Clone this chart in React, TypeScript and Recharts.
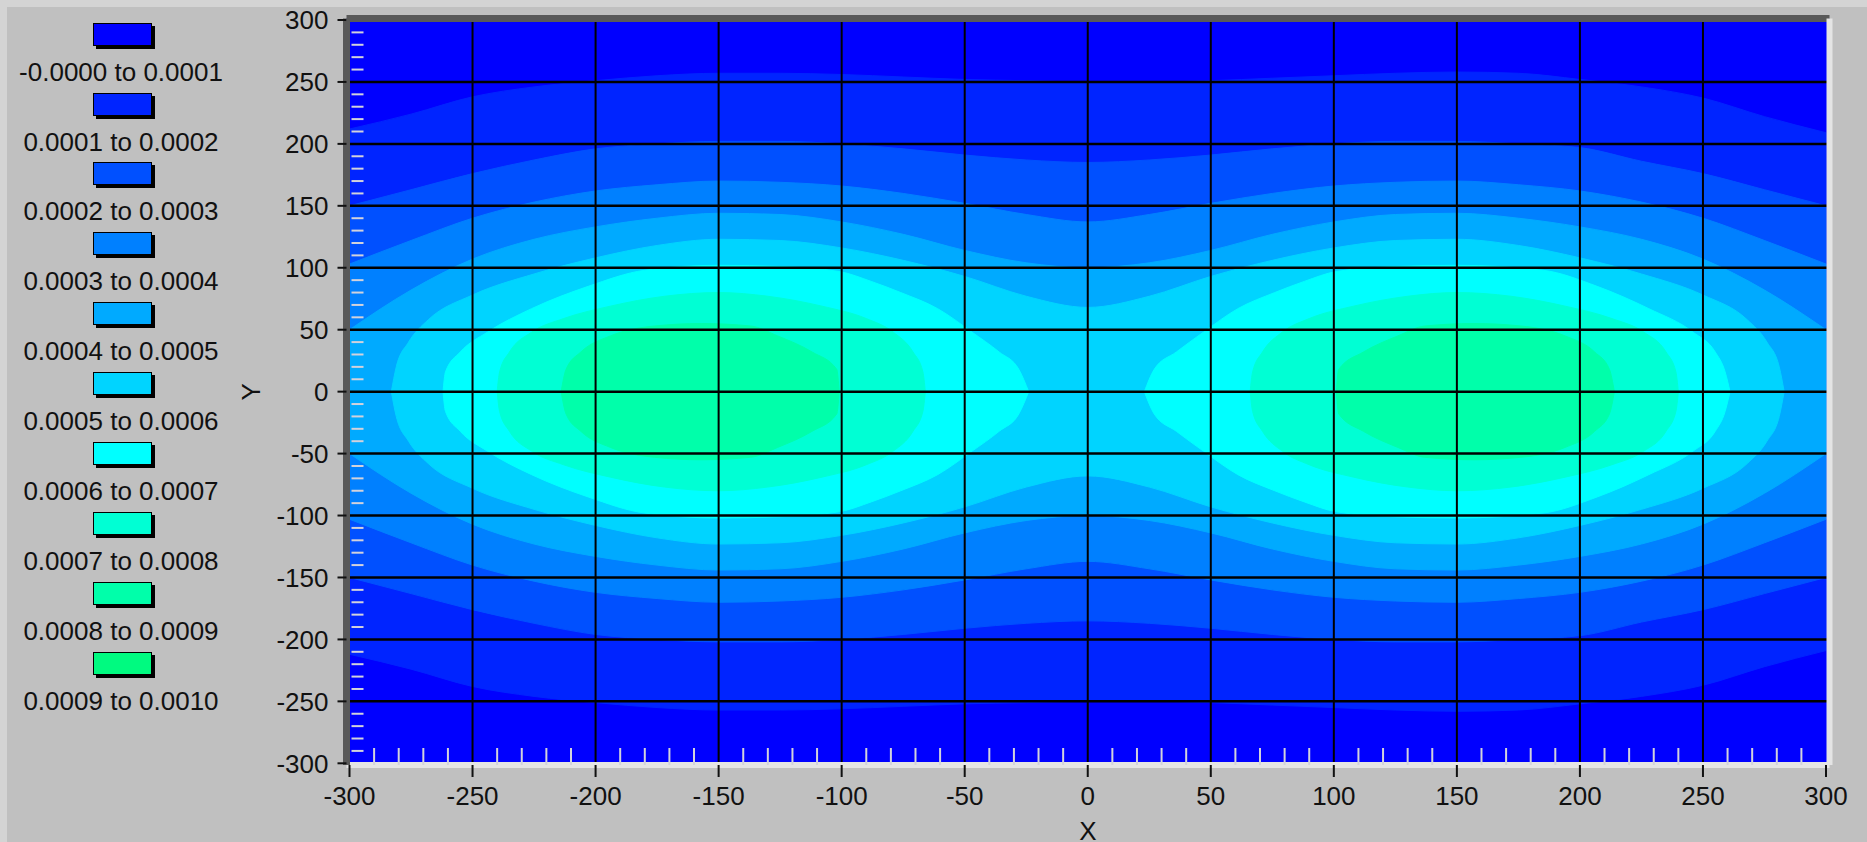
import React from "react"
import { ScatterChart, Scatter, XAxis, YAxis, CartesianGrid, ReferenceLine, Legend, Curve } from "recharts"

const FONT = "'Liberation Sans', Arial, sans-serif"

const bandLabels = [
  "-0.0000 to 0.0001",
  "0.0001 to 0.0002",
  "0.0002 to 0.0003",
  "0.0003 to 0.0004",
  "0.0004 to 0.0005",
  "0.0005 to 0.0006",
  "0.0006 to 0.0007",
  "0.0007 to 0.0008",
  "0.0008 to 0.0009",
  "0.0009 to 0.0010",
]

const bandColors = [
  "#0000ff",
  "#0024ff",
  "#0050ff",
  "#0080ff",
  "#00aaff",
  "#00d4ff",
  "#00ffff",
  "#00ffd4",
  "#00ffaa",
  "#00fa80",
]

const majorTicks = [-300, -250, -200, -150, -100, -50, 0, 50, 100, 150, 200, 250, 300]
const gridLines = [-250, -200, -150, -100, -50, 0, 50, 100, 150, 200, 250]
const minorTicks = [
  -290, -280, -270, -260, -240, -230, -220, -210, -190, -180, -170, -160,
  -140, -130, -120, -110, -90, -80, -70, -60, -40, -30, -20, -10,
  10, 20, 30, 40, 60, 70, 80, 90, 110, 120, 130, 140,
  160, 170, 180, 190, 210, 220, 230, 240, 260, 270, 280, 290,
]

type Pt = [number, number]

// upper edge (y >= 0) of each contour region; the field is mirrored about y = 0
const level1Edge: Pt[] = [
  [-300, 212], [-275, 224], [-250, 238], [-225, 246], [-200, 251], [-175, 255], [-150, 257],
  [-125, 257], [-100, 256], [-75, 254], [-50, 252], [-25, 251], [0, 250], [25, 250],
  [50, 251], [75, 253], [100, 255], [125, 257], [150, 258], [175, 257], [200, 252],
  [225, 246], [250, 237], [275, 222], [300, 209],
]

const level2Edge: Pt[] = [
  [-300, 150], [-275, 163], [-250, 176], [-225, 187], [-200, 196], [-175, 200], [-150, 202],
  [-125, 202], [-100, 200], [-75, 196], [-50, 191], [-25, 187], [0, 185], [25, 187],
  [50, 191], [75, 196], [100, 200], [125, 202], [150, 202], [175, 200], [200, 197],
  [225, 186], [250, 176], [275, 163], [300, 150],
]

const level3Edge: Pt[] = [
  [-300, 103], [-275, 122], [-250, 140], [-225, 153], [-200, 162], [-175, 167], [-150, 170],
  [-125, 169], [-100, 166], [-75, 160], [-50, 152], [-25, 143], [0, 137], [25, 143],
  [50, 152], [75, 160], [100, 166], [125, 169], [150, 170], [175, 167], [200, 162],
  [225, 153], [250, 140], [275, 122], [300, 103],
]

const level4Edge: Pt[] = [
  [-300, 50], [-275, 82], [-250, 107], [-225, 123], [-200, 133], [-175, 140], [-150, 144],
  [-125, 143], [-100, 137], [-75, 127], [-50, 114], [-25, 104], [0, 100], [25, 104],
  [50, 114], [75, 127], [100, 137], [125, 143], [150, 144], [175, 140], [200, 133],
  [225, 123], [250, 107], [275, 82], [300, 50],
]

const level5Edge: Pt[] = [
  [-283, 0], [-281, 20], [-276, 40], [-268, 58], [-250, 78], [-225, 95], [-200, 108],
  [-175, 118], [-150, 123], [-125, 122], [-100, 116], [-75, 106], [-50, 93], [-25, 77],
  [0, 68], [25, 77], [50, 93], [75, 106], [100, 116], [125, 122], [150, 123], [175, 118],
  [200, 108], [225, 95], [250, 78], [268, 58], [276, 40], [281, 20], [283, 0],
]

const level6Left: Pt[] = [
  [-262, 0], [-261, 16], [-255, 32], [-244, 48], [-226, 67], [-203, 85], [-180, 98],
  [-150, 102], [-125, 101], [-101, 97], [-88, 89], [-76, 80], [-61, 67], [-47, 48],
  [-36, 32], [-28, 18], [-24, 0],
]

const level6Right: Pt[] = [
  [23, 0], [27, 18], [36, 32], [47, 48], [61, 67], [76, 80], [88, 89], [101, 97],
  [125, 101], [150, 102], [185, 98], [207, 85], [228, 67], [246, 48], [255, 32],
  [259, 16], [261, 0],
]

const level7Left: Pt[] = [
  [-240, 0], [-239, 16], [-235, 32], [-226, 48], [-213, 59], [-194, 69], [-172, 77],
  [-150, 80], [-130, 77], [-108, 69], [-90, 59], [-79, 48], [-71, 32], [-67, 16], [-66, 0],
]

const level7Right: Pt[] = [
  [66, 0], [67, 16], [71, 32], [79, 48], [90, 59], [108, 69], [130, 77], [150, 80],
  [172, 77], [194, 69], [213, 59], [226, 48], [235, 32], [239, 16], [240, 0],
]

const level8Left: Pt[] = [
  [-214, 0], [-212, 18], [-206, 32], [-194, 45], [-176, 53], [-157, 55], [-137, 53],
  [-126, 45], [-112, 32], [-102, 18], [-101, 0],
]

const level8Right: Pt[] = [
  [101, 0], [102, 18], [112, 32], [126, 45], [137, 53], [157, 55], [176, 53],
  [194, 45], [206, 32], [212, 18], [214, 0],
]

const regions: { band: number; edge: Pt[] }[] = [
  { band: 1, edge: level1Edge },
  { band: 2, edge: level2Edge },
  { band: 3, edge: level3Edge },
  { band: 4, edge: level4Edge },
  { band: 5, edge: level5Edge },
  { band: 6, edge: level6Left },
  { band: 6, edge: level6Right },
  { band: 7, edge: level7Left },
  { band: 7, edge: level7Right },
  { band: 8, edge: level8Left },
  { band: 8, edge: level8Right },
]

// outline points: upper edge left to right, then the mirrored edge back
const toOutline = (edge: Pt[]) => [
  ...edge.map(([x, y]) => ({ x, y })),
  ...[...edge].reverse().map(([x, y]) => ({ x, y: -y })),
]

// fill the band between the upper edge and its mirror with a smooth curve
const bandShape = (n: number, color: string) => (p: any) => {
  const pts = p.points as { x: number; y: number }[]
  const upper = pts.slice(0, n)
  const lower = pts.slice(n).reverse()
  return <Curve type="monotoneX" points={upper} baseLine={lower} fill={color} stroke={color} strokeWidth={1} />
}

const tickStyle = { fill: "#111", fontSize: 26, fontFamily: FONT }
const hiddenTick = { fill: "none", fontSize: 2 }
const DARK = "#595959"
const LIGHT = "#e4e4e4"
const MINOR = "#d2d2dc"
const TOP = 1000

function BandLegend() {
  return (
    <div style={{ fontFamily: FONT, fontSize: 26, color: "#111" }}>
      {bandLabels.map((label, i) => (
        <div key={label} style={{ position: "relative", height: 69.9 }}>
          <div
            style={{
              position: "absolute",
              left: 86,
              top: 0,
              width: 57,
              height: 21,
              background: bandColors[i],
              border: "1px solid #000",
              boxShadow: "3px 3px 0 #000",
            }}
          />
          <div
            style={{
              position: "absolute",
              left: 0,
              top: 36,
              width: 228,
              textAlign: "center",
              lineHeight: "26px",
              whiteSpace: "nowrap",
            }}
          >
            {label}
          </div>
        </div>
      ))}
    </div>
  )
}

export default function App() {
  const extra: any = { zIndex: TOP }
  return (
    <div style={{ position: "absolute", left: 0, top: 0, width: 1867, height: 842, background: "#d4d4d4", overflow: "hidden" }}>
      <div style={{ position: "absolute", left: 7, top: 7, width: 1860, height: 835, background: "#c0c0c0" }}>
        <ScatterChart width={1860} height={835} margin={{ top: 11.5, right: 37.5, bottom: 0, left: 147.5 }}>
          <CartesianGrid horizontal={false} vertical={false} fill={bandColors[0]} />
          {regions.map((r, i) => (
            <Scatter
              key={i}
              data={toOutline(r.edge)}
              fill={bandColors[r.band]}
              legendType="none"
              isAnimationActive={false}
              lineType="joint"
              line={bandShape(r.edge.length, bandColors[r.band])}
              shape={() => <g />}
            />
          ))}
          {gridLines.map((v) => (
            <ReferenceLine key={`gx${v}`} x={v} stroke="#000" strokeWidth={2} {...extra} />
          ))}
          {gridLines.map((v) => (
            <ReferenceLine key={`gy${v}`} y={v} stroke="#000" strokeWidth={2.5} {...extra} />
          ))}
          <XAxis
            {...extra}
            type="number"
            dataKey="x"
            domain={[-300, 300]}
            ticks={majorTicks}
            interval={0}
            padding={{ left: 3, right: 3.5 }}
            height={77}
            axisLine={{ stroke: LIGHT, strokeWidth: 6 }}
            tickLine={{ stroke: "#111", strokeWidth: 2, strokeDasharray: "0 5 12 60" }}
            tickSize={17}
            tickMargin={5}
            tick={tickStyle}
            label={{ value: "X", position: "insideBottom", offset: 2, fill: "#111", fontSize: 26, fontFamily: FONT }}
          />
          <YAxis
            {...extra}
            type="number"
            dataKey="y"
            domain={[-300, 300]}
            ticks={majorTicks}
            interval={0}
            padding={{ top: 1.5, bottom: 1.7 }}
            width={192}
            axisLine={{ stroke: DARK, strokeWidth: 7 }}
            tickLine={{ stroke: "#111", strokeWidth: 2 }}
            tickSize={9}
            tickMargin={9}
            tick={tickStyle}
            label={{ value: "Y", angle: -90, position: "center", fill: "#111", fontSize: 26, fontFamily: FONT }}
          />
          <XAxis
            {...extra}
            xAxisId="top"
            orientation="top"
            mirror
            type="number"
            domain={[-300, 300]}
            allowDataOverflow
            ticks={majorTicks}
            tick={false}
            tickLine={false}
            axisLine={{ stroke: DARK, strokeWidth: 7 }}
          />
          <YAxis
            {...extra}
            yAxisId="right"
            orientation="right"
            mirror
            type="number"
            domain={[-300, 300]}
            allowDataOverflow
            ticks={majorTicks}
            tick={false}
            tickLine={false}
            axisLine={{ stroke: LIGHT, strokeWidth: 6 }}
          />
          <XAxis
            {...extra}
            xAxisId="minor"
            mirror
            type="number"
            dataKey="x"
            domain={[-300, 300]}
            allowDataOverflow
            padding={{ left: 3, right: 3.5 }}
            ticks={minorTicks}
            interval={0}
            tick={hiddenTick}
            axisLine={false}
            tickLine={{ stroke: MINOR, strokeWidth: 2 }}
            tickSize={17}
          />
          <YAxis
            {...extra}
            yAxisId="minor"
            mirror
            type="number"
            dataKey="y"
            domain={[-300, 300]}
            allowDataOverflow
            padding={{ top: 1.5, bottom: 1.7 }}
            ticks={minorTicks}
            interval={0}
            tick={hiddenTick}
            axisLine={false}
            tickLine={{ stroke: MINOR, strokeWidth: 2, strokeDasharray: "12 60" }}
            tickSize={17}
          />
          <Legend
            layout="vertical"
            align="center"
            verticalAlign="middle"
            wrapperStyle={{ left: 0, top: 15.7, width: 230 }}
            content={() => <BandLegend />}
          />
        </ScatterChart>
      </div>
    </div>
  )
}
